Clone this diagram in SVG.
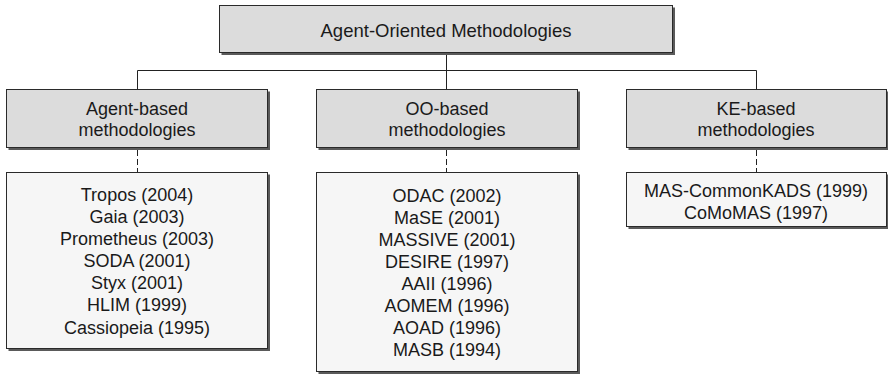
<svg xmlns="http://www.w3.org/2000/svg" width="888" height="374" viewBox="0 0 888 374">
  <style>
    .shadow { fill: #5a5a5a; }
    .head { fill: #dcdcdc; stroke: #2a2a2a; stroke-width: 1; }
    .list { fill: #f6f6f6; stroke: #2a2a2a; stroke-width: 1; }
    .link { fill: none; stroke: #222; stroke-width: 1; }
    .dash { fill: none; stroke: #222; stroke-width: 1; stroke-dasharray: 6 3; }
    text { font-family: "Liberation Sans", Arial, Helvetica, sans-serif; font-size: 18px; fill: #1a1a1a; text-anchor: middle; }
    .title { font-size: 18.5px; }
  </style>
  <rect width="888" height="374" fill="#ffffff"/>

  <!-- connectors -->
  <g id="connectors">
    <path class="link" d="M446.5 53 V70.5 M137.5 70.5 H756.5 M137.5 70.5 V89 M446.5 70.5 V89 M756.5 70.5 V89"/>
    <path class="dash" d="M137.5 150 V172 M446.5 150 V172 M756.5 150 V172"/>
  </g>

  <!-- root -->
  <g id="root">
    <rect class="shadow" x="221.5" y="7.5" width="453.5" height="47.5"/>
    <rect class="head" x="219.5" y="5.5" width="453" height="47"/>
    <text class="title" x="446" y="37">Agent-Oriented Methodologies</text>
  </g>

  <!-- categories -->
  <g id="agent-based">
    <rect class="shadow" x="8.5" y="91.5" width="261.5" height="58.5"/>
    <rect class="head" x="6.5" y="89.5" width="261" height="58"/>
    <text x="137" y="115">Agent-based</text>
    <text x="137" y="136">methodologies</text>
  </g>
  <g id="oo-based">
    <rect class="shadow" x="318.5" y="91.5" width="261.5" height="58.5"/>
    <rect class="head" x="316.5" y="89.5" width="261" height="58"/>
    <text x="447" y="115">OO-based</text>
    <text x="447" y="136">methodologies</text>
  </g>
  <g id="ke-based">
    <rect class="shadow" x="628.5" y="91.5" width="261.5" height="58.5"/>
    <rect class="head" x="626.5" y="89.5" width="260" height="58"/>
    <text x="756" y="115">KE-based</text>
    <text x="756" y="136">methodologies</text>
  </g>

  <!-- method lists -->
  <g id="agent-list">
    <rect class="shadow" x="8.5" y="174.5" width="261.5" height="176.5"/>
    <rect class="list" x="6.5" y="172.5" width="261" height="176"/>
    <text x="137" y="201">Tropos (2004)</text>
    <text x="137" y="223">Gaia (2003)</text>
    <text x="137" y="245">Prometheus (2003)</text>
    <text x="137" y="267">SODA (2001)</text>
    <text x="137" y="289">Styx (2001)</text>
    <text x="137" y="311">HLIM (1999)</text>
    <text x="137" y="334">Cassiopeia (1995)</text>
  </g>
  <g id="oo-list">
    <rect class="shadow" x="318.5" y="174.5" width="261.5" height="200"/>
    <rect class="list" x="316.5" y="172.5" width="261" height="199"/>
    <text x="447" y="202">ODAC (2002)</text>
    <text x="447" y="224">MaSE (2001)</text>
    <text x="447" y="246">MASSIVE (2001)</text>
    <text x="447" y="268">DESIRE (1997)</text>
    <text x="447" y="290">AAII (1996)</text>
    <text x="447" y="312">AOMEM (1996)</text>
    <text x="447" y="334">AOAD (1996)</text>
    <text x="447" y="356">MASB (1994)</text>
  </g>
  <g id="ke-list">
    <rect class="shadow" x="628.5" y="174.5" width="261.5" height="54.5"/>
    <rect class="list" x="626.5" y="172.5" width="260" height="54"/>
    <text x="756" y="197">MAS-CommonKADS (1999)</text>
    <text x="756" y="219">CoMoMAS (1997)</text>
  </g>
</svg>
